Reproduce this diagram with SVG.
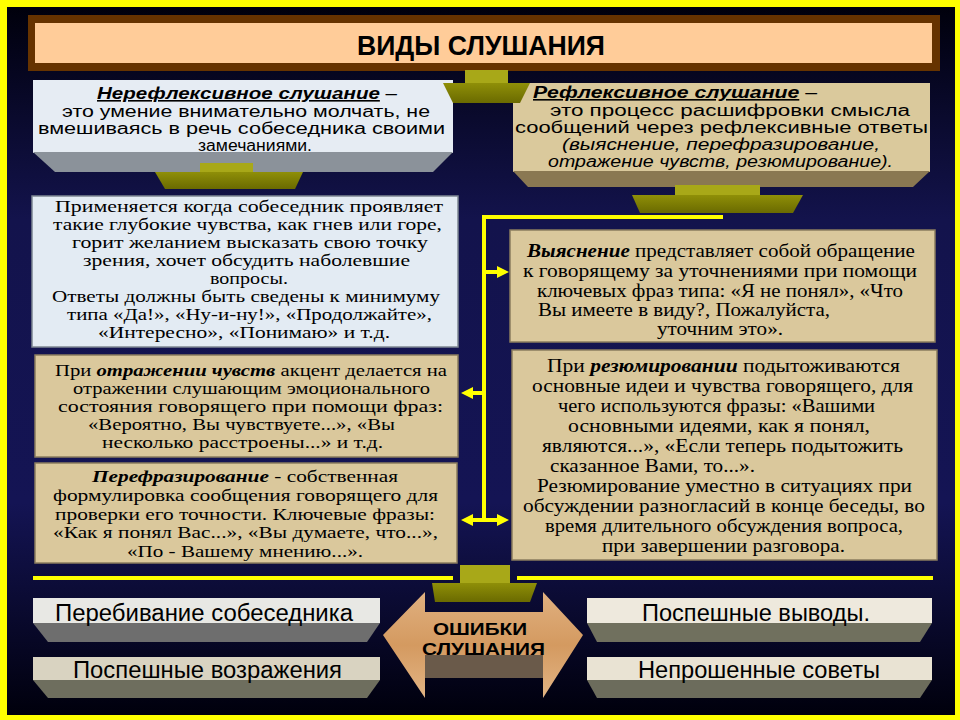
<svg xmlns="http://www.w3.org/2000/svg" width="960" height="720" viewBox="0 0 960 720">
<defs>
<linearGradient id="bg" x1="0" y1="0" x2="0" y2="1">
<stop offset="0" stop-color="#00000c"/>
<stop offset="0.3" stop-color="#13134c"/>
<stop offset="0.7" stop-color="#141454"/>
<stop offset="1" stop-color="#00000c"/>
</linearGradient>
<linearGradient id="olive" x1="0" y1="0" x2="0" y2="1">
<stop offset="0" stop-color="#8f8f08"/>
<stop offset="1" stop-color="#6a6a00"/>
</linearGradient>
<linearGradient id="wood" x1="0" y1="0" x2="0" y2="1">
<stop offset="0" stop-color="#e0b080"/>
<stop offset="0.5" stop-color="#d49a60"/>
<stop offset="1" stop-color="#e2b484"/>
</linearGradient>
<marker id="ah" viewBox="0 0 12 12" refX="3" refY="6" markerWidth="12" markerHeight="12" markerUnits="userSpaceOnUse" orient="auto">
<path d="M0,0 L12,6 L0,12 z" fill="#ffff00"/>
</marker>
</defs>
<style>
.sans{font-family:"Liberation Sans",Arial,sans-serif;fill:#000}
.narrow{font-family:"Liberation Sans Narrow","Liberation Sans",Arial,sans-serif;font-weight:bold;fill:#000}
.serif{font-family:"Liberation Serif","Times New Roman",serif;fill:#000}
.s16{font-size:16px}
.s17{font-size:17px}
.s18{font-size:18px}
.s23{font-size:23px}
.bi{font-weight:bold;font-style:italic}
.it{font-style:italic}
.ul{text-decoration:underline}
.blue{fill:#e3ebf3;stroke:#7e8792;stroke-width:1.5}
.parch{fill:#dac89c;stroke:#8a7c5e;stroke-width:1.5}
.oliveTop{fill:#a8a818}
.oliveBody{fill:url(#olive)}
.conn{stroke:#ffff00;stroke-width:4;fill:none}
</style>

<rect x="0" y="0" width="960" height="720" fill="#ffff00"/>
<rect x="7" y="7" width="948" height="708" fill="url(#bg)"/>

<g id="title">
<rect x="28" y="15" width="912" height="56" fill="#663300"/>
<rect x="35" y="23" width="897" height="40" fill="#ffcc99"/>
<text class="narrow" x="357" y="55" font-size="27" textLength="248" lengthAdjust="spacingAndGlyphs">ВИДЫ СЛУШАНИЯ</text>
</g>

<g id="nonreflexive">
<rect x="33" y="80" width="420" height="73" fill="#e6ecf3"/>
<text class="sans s16" x="97" y="99" textLength="300" lengthAdjust="spacingAndGlyphs"><tspan class="bi ul">Нерефлексивное слушание</tspan> –</text>
<text class="sans s16" x="62" y="117" textLength="368" lengthAdjust="spacingAndGlyphs">это умение внимательно молчать, не</text>
<text class="sans s16" x="38" y="134" textLength="407" lengthAdjust="spacingAndGlyphs">вмешиваясь в речь собеседника своими</text>
<text class="sans s16" x="198" y="151" textLength="114" lengthAdjust="spacingAndGlyphs">замечаниями.</text>
<polygon points="33,152 453,152 433,172 55,172" fill="#8b929a"/>
</g>

<g id="reflexive">
<rect x="513" y="83" width="417" height="89" fill="#dac99c"/>
<text class="sans s16" x="533" y="98" textLength="284" lengthAdjust="spacingAndGlyphs"><tspan class="bi ul">Рефлексивное слушание</tspan> –</text>
<text class="sans s16" x="550" y="116" textLength="360" lengthAdjust="spacingAndGlyphs">это процесс расшифровки смысла</text>
<text class="sans s16" x="515" y="133" textLength="413" lengthAdjust="spacingAndGlyphs">сообщений через рефлексивные ответы</text>
<text class="sans s16 it" x="562" y="150" textLength="318" lengthAdjust="spacingAndGlyphs">(выяснение, перефразирование,</text>
<text class="sans s16 it" x="548" y="167" textLength="345" lengthAdjust="spacingAndGlyphs">отражение чувств, резюмирование).</text>
<polygon points="513,171 930,171 913,187 528,187" fill="#8a7852"/>
</g>

<g id="connector-title">
<rect x="465" y="70" width="43" height="13" class="oliveTop"/>
<polygon points="443,83 530,83 520,103 453,103" class="oliveBody"/>
</g>
<g id="connector-left">
<rect x="200" y="163" width="53" height="10" class="oliveTop"/>
<polygon points="155,172 303,172 295,189 165,189" class="oliveBody"/>
</g>
<g id="connector-right">
<rect x="675" y="185" width="85" height="10" class="oliveTop"/>
<polygon points="632,195 803,195 793,213 640,213" class="oliveBody"/>
</g>

<g id="when-applied">
<rect x="32" y="196" width="426" height="151" class="blue"/>
<text class="serif s17" x="55" y="212" textLength="388" lengthAdjust="spacingAndGlyphs">Применяется когда собеседник проявляет</text>
<text class="serif s17" x="53" y="230" textLength="389" lengthAdjust="spacingAndGlyphs">такие глубокие чувства, как гнев или горе,</text>
<text class="serif s17" x="72" y="248" textLength="356" lengthAdjust="spacingAndGlyphs">горит желанием высказать свою точку</text>
<text class="serif s17" x="83" y="266" textLength="327" lengthAdjust="spacingAndGlyphs">зрения, хочет обсудить наболевшие</text>
<text class="serif s17" x="210" y="284" textLength="78" lengthAdjust="spacingAndGlyphs">вопросы.</text>
<text class="serif s17" x="52" y="302" textLength="388" lengthAdjust="spacingAndGlyphs">Ответы должны быть сведены к минимуму</text>
<text class="serif s17" x="67" y="320" textLength="365" lengthAdjust="spacingAndGlyphs">типа «Да!», «Ну-и-ну!», «Продолжайте»,</text>
<text class="serif s17" x="98" y="338" textLength="292" lengthAdjust="spacingAndGlyphs">«Интересно», «Понимаю» и т.д.</text>
</g>

<g id="reflection">
<rect x="35" y="355" width="423" height="102" class="parch"/>
<text class="serif s17" x="55" y="376" textLength="392" lengthAdjust="spacingAndGlyphs">При <tspan class="bi">отражении чувств</tspan> акцент делается на</text>
<text class="serif s17" x="73" y="394" textLength="357" lengthAdjust="spacingAndGlyphs">отражении слушающим эмоционального</text>
<text class="serif s17" x="58" y="412" textLength="385" lengthAdjust="spacingAndGlyphs">состояния говорящего при помощи фраз:</text>
<text class="serif s17" x="88" y="430" textLength="307" lengthAdjust="spacingAndGlyphs">«Вероятно, Вы чувствуете...», «Вы</text>
<text class="serif s17" x="102" y="448" textLength="281" lengthAdjust="spacingAndGlyphs">несколько расстроены...» и т.д.</text>
</g>

<g id="paraphrasing">
<rect x="35" y="463" width="422" height="100" class="parch"/>
<text class="serif s17" x="92" y="482" textLength="306" lengthAdjust="spacingAndGlyphs"><tspan class="bi">Перефразирование</tspan> - собственная</text>
<text class="serif s17" x="53" y="501" textLength="385" lengthAdjust="spacingAndGlyphs">формулировка сообщения говорящего для</text>
<text class="serif s17" x="55" y="520" textLength="380" lengthAdjust="spacingAndGlyphs">проверки его точности. Ключевые фразы:</text>
<text class="serif s17" x="53" y="538" textLength="385" lengthAdjust="spacingAndGlyphs">«Как я понял Вас...», «Вы думаете, что...»,</text>
<text class="serif s17" x="127" y="557" textLength="236" lengthAdjust="spacingAndGlyphs">«По - Вашему мнению...».</text>
</g>

<g id="clarification">
<rect x="510" y="230" width="425" height="112" class="parch"/>
<text class="serif s18" x="527" y="257" textLength="388" lengthAdjust="spacingAndGlyphs"><tspan class="bi">Выяснение</tspan> представляет собой обращение</text>
<text class="serif s18" x="523" y="277" textLength="394" lengthAdjust="spacingAndGlyphs">к говорящему за уточнениями при помощи</text>
<text class="serif s18" x="537" y="297" textLength="366" lengthAdjust="spacingAndGlyphs">ключевых фраз типа: «Я не понял», «Что</text>
<text class="serif s18" x="538" y="316" textLength="292" lengthAdjust="spacingAndGlyphs">Вы имеете в виду?, Пожалуйста,</text>
<text class="serif s18" x="657" y="335" textLength="126" lengthAdjust="spacingAndGlyphs">уточним это».</text>
</g>

<g id="summarizing">
<rect x="512" y="350" width="425" height="210" class="parch"/>
<text class="serif s18" x="547" y="372" textLength="353" lengthAdjust="spacingAndGlyphs">При <tspan class="bi">резюмировании</tspan> подытоживаются</text>
<text class="serif s18" x="532" y="392" textLength="381" lengthAdjust="spacingAndGlyphs">основные идеи и чувства говорящего, для</text>
<text class="serif s18" x="558" y="412" textLength="317" lengthAdjust="spacingAndGlyphs">чего используются фразы: «Вашими</text>
<text class="serif s18" x="568" y="432" textLength="302" lengthAdjust="spacingAndGlyphs">основными идеями, как я понял,</text>
<text class="serif s18" x="542" y="452" textLength="361" lengthAdjust="spacingAndGlyphs">являются...», «Если теперь подытожить</text>
<text class="serif s18" x="550" y="472" textLength="205" lengthAdjust="spacingAndGlyphs">сказанное Вами, то...».</text>
<text class="serif s18" x="537" y="492" textLength="375" lengthAdjust="spacingAndGlyphs">Резюмирование уместно в ситуациях при</text>
<text class="serif s18" x="523" y="512" textLength="402" lengthAdjust="spacingAndGlyphs">обсуждении разногласий в конце беседы, во</text>
<text class="serif s18" x="545" y="532" textLength="358" lengthAdjust="spacingAndGlyphs">время длительного обсуждения вопроса,</text>
<text class="serif s18" x="602" y="552" textLength="243" lengthAdjust="spacingAndGlyphs">при завершении разговора.</text>
</g>

<g id="connectors">
<path class="conn" d="M723,217 H484 V520"/>
<line class="conn" x1="484" y1="272" x2="500" y2="272" marker-end="url(#ah)"/>
<line class="conn" x1="484" y1="393" x2="470" y2="393" marker-end="url(#ah)"/>
<line class="conn" x1="484" y1="520" x2="470" y2="520" marker-end="url(#ah)"/>
<line class="conn" x1="484" y1="520" x2="500" y2="520" marker-end="url(#ah)"/>
<line class="conn" x1="33" y1="578" x2="453" y2="578"/>
<line class="conn" x1="517" y1="578" x2="933" y2="578"/>
</g>

<g id="connector-bottom">
<rect x="460" y="565" width="50" height="18" class="oliveTop"/>
<polygon points="432,583 537,583 530,602 435,602" class="oliveBody"/>
</g>

<g id="errors">
<polygon points="383,635 425,592 425,612 543,612 543,592 583,635 543,698 543,678 425,678 425,698" fill="url(#wood)"/>
<rect x="425" y="655" width="118" height="23" fill="#6a5a4a"/>
<text class="sans" x="433" y="635" font-size="17" font-weight="bold" fill="#1a1a1a" textLength="94" lengthAdjust="spacingAndGlyphs">ОШИБКИ</text>
<text class="sans" x="422" y="655" font-size="17" font-weight="bold" fill="#1a1a1a" textLength="123" lengthAdjust="spacingAndGlyphs">СЛУШАНИЯ</text>
</g>

<g id="interrupting">
<polygon points="33,623 380,623 367,642 48,642" fill="#6e6e6e"/>
<rect x="33" y="598" width="347" height="25" fill="#e8e8e4"/>
<text class="sans s23" x="55" y="621" textLength="298" lengthAdjust="spacingAndGlyphs">Перебивание собеседника</text>
</g>
<g id="hasty-objections">
<polygon points="33,680 380,680 367,698 48,698" fill="#6e6e5e"/>
<rect x="33" y="657" width="347" height="23" fill="#d9d3c1"/>
<text class="sans s23" x="73" y="678" textLength="269" lengthAdjust="spacingAndGlyphs">Поспешные возражения</text>
</g>
<g id="hasty-conclusions">
<polygon points="587,623 932,623 920,642 597,642" fill="#70705e"/>
<rect x="587" y="598" width="345" height="25" fill="#eee9dd"/>
<text class="sans s23" x="642" y="621" textLength="228" lengthAdjust="spacingAndGlyphs">Поспешные выводы.</text>
</g>
<g id="unsolicited-advice">
<polygon points="587,680 932,680 920,698 597,698" fill="#6c6c5c"/>
<rect x="587" y="657" width="345" height="23" fill="#e9e3d3"/>
<text class="sans s23" x="638" y="678" textLength="242" lengthAdjust="spacingAndGlyphs">Непрошенные советы</text>
</g>
</svg>
